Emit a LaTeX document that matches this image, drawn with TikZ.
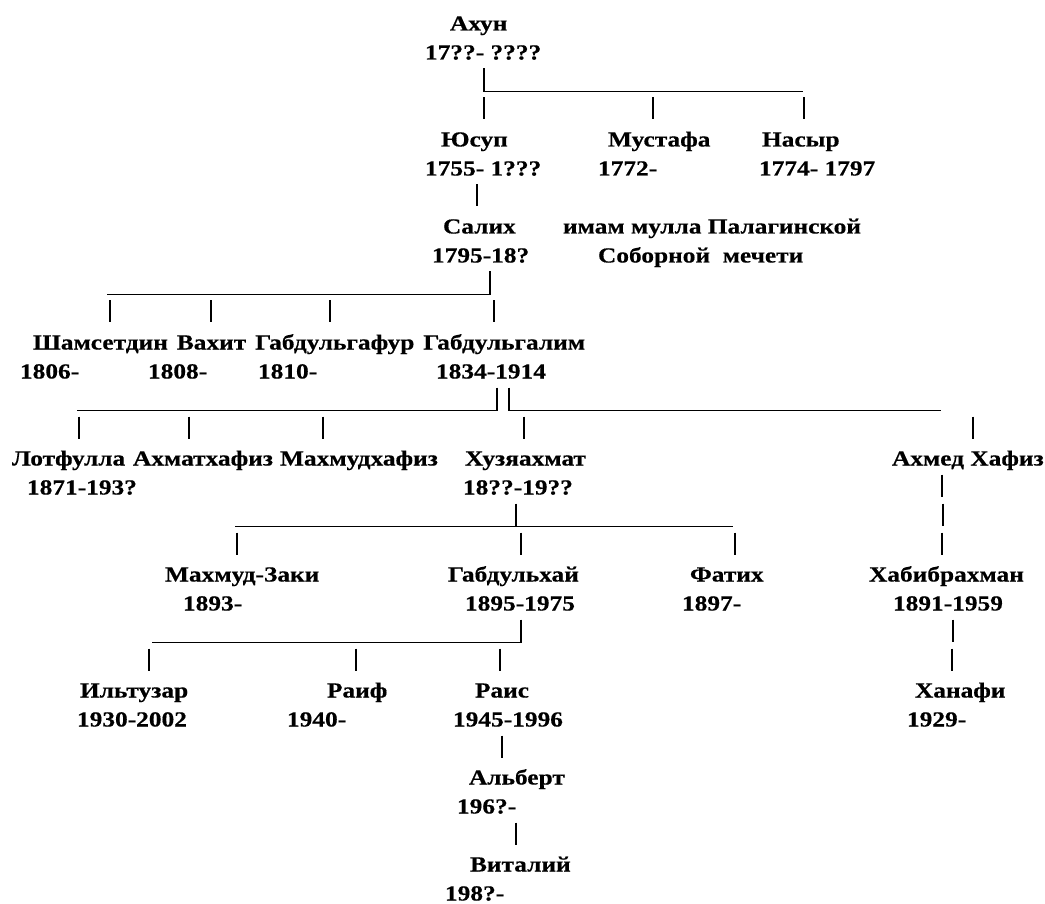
\documentclass[tikz,border=0pt]{standalone}
\usepackage{fontspec}
\setmainfont{Liberation Serif}[FakeStretch=1.18, BoldFeatures={FakeBold=0.5}]
\newcommand\yr[1]{(-(30.5+29*#1))}
\newcommand\myvbar[2]{\draw[pipe] (#1,{\yr{#2}+20}) -- (#1,{\yr{#2}-2});}
\newcommand\myvbaru[2]{\draw[pipe] (#1,{\yr{#2}+20}) -- (#1,{\yr{#2}-3.5});}
\newcommand\myhline[3]{\draw[under] (#1,{\yr{#3}-3}) -- (#2,{\yr{#3}-3});}
\newcommand\pers[4]{\node[txt] (#1) at (#2,{\yr{#3}}) {#4};}
\begin{document}
\begin{tikzpicture}[x=1pt,y=1pt,
  txt/.style={anchor=base west, inner sep=0pt, outer sep=0pt, font=\fontsize{21.5}{25}\selectfont\bfseries},
  pipe/.style={line width=1.6pt, line cap=butt},
  under/.style={line width=1.2pt, line cap=butt}]
\useasboundingbox (0,0) rectangle (1045,-904);
\clip (0,0) rectangle (1045,-904);
% ---- generation 1
\pers{ahun}{450}{0}{Ахун}
\pers{ahund}{425}{1}{17??- ????}
\myvbaru{484}{2}\myhline{484}{803}{2}
\myvbar{484}{3}\myvbar{653}{3}\myvbar{804}{3}
% ---- generation 2
\pers{yusup}{441}{4}{Юсуп}
\pers{mustafa}{608}{4}{Мустафа}
\pers{nasyr}{762}{4}{Насыр}
\pers{yusupd}{425}{5}{1755- 1???}
\pers{mustafad}{598}{5}{1772-}
\pers{nasyrd}{759}{5}{1774- 1797}
\myvbar{477}{6}
% ---- generation 3
\pers{salih}{443}{7}{Салих}
\pers{imam}{563}{7}{имам мулла Палагинской}
\pers{salihd}{432}{8}{1795-18?}
\pers{imam2}{598}{8}{Соборной\ \ мечети}
\myhline{107}{490}{9}\myvbaru{490}{9}
\myvbar{110}{10}\myvbar{211}{10}\myvbar{330}{10}\myvbar{494}{10}
% ---- generation 4
\pers{shams}{33}{11}{Шамсетдин}
\node[txt] (vahit) at ([xshift=9pt]shams.base east) {Вахит};
\node[txt] (gafur) at ([xshift=9pt]vahit.base east) {Габдульгафур};
\node[txt] (galim) at ([xshift=9pt]gafur.base east) {Габдульгалим};
\pers{shamsd}{20}{12}{1806-}
\pers{vahitd}{148}{12}{1808-}
\pers{gafurd}{258}{12}{1810-}
\pers{galimd}{436}{12}{1834-1914}
\myhline{77}{497}{13}\myvbaru{497}{13}\myvbaru{509}{13}\myhline{509}{941}{13}
\myvbar{79}{14}\myvbar{189}{14}\myvbar{323}{14}\myvbar{524}{14}\myvbar{973}{14}
% ---- generation 5
\pers{lotf}{12}{15}{Лотфулла}
\pers{ahmat}{133}{15}{Ахматхафиз}
\pers{mahm}{280}{15}{Махмудхафиз}
\pers{huz}{465}{15}{Хузяахмат}
\pers{ahmed}{892}{15}{Ахмед Хафиз}
\pers{lotfd}{27}{16}{1871-193?}
\pers{huzd}{463}{16}{18??-19??}
\myvbar{942}{16}
\myhline{235}{733}{17}\myvbaru{516}{17}\myvbar{943}{17}
\myvbar{237}{18}\myvbar{521}{18}\myvbar{735}{18}\myvbar{942}{18}
% ---- generation 6
\pers{zaki}{165}{19}{Махмуд-Заки}
\pers{hai}{448}{19}{Габдульхай}
\pers{fatih}{690}{19}{Фатих}
\pers{habib}{869}{19}{Хабибрахман}
\pers{zakid}{183}{20}{1893-}
\pers{haid}{465}{20}{1895-1975}
\pers{fatihd}{682}{20}{1897-}
\pers{habibd}{893}{20}{1891-1959}
\myhline{152}{521}{21}\myvbaru{521}{21}\myvbar{953}{21}
\myvbar{149}{22}\myvbar{356}{22}\myvbar{500}{22}\myvbar{952}{22}
% ---- generation 7
\pers{iltuz}{80}{23}{Ильтузар}
\pers{raif}{327}{23}{Раиф}
\pers{rais}{475}{23}{Раис}
\pers{hanafi}{915}{23}{Ханафи}
\pers{iltuzd}{77}{24}{1930-2002}
\pers{raifd}{287}{24}{1940-}
\pers{raisd}{453}{24}{1945-1996}
\pers{hanafid}{907}{24}{1929-}
\myvbar{502}{25}
% ---- generation 8
\pers{albert}{469}{26}{Альберт}
\pers{albertd}{457}{27}{196?-}
\myvbar{516}{28}
\pers{vitaly}{470}{29}{Виталий}
\pers{vitalyd}{445}{30}{198?-}
\end{tikzpicture}
\end{document}
